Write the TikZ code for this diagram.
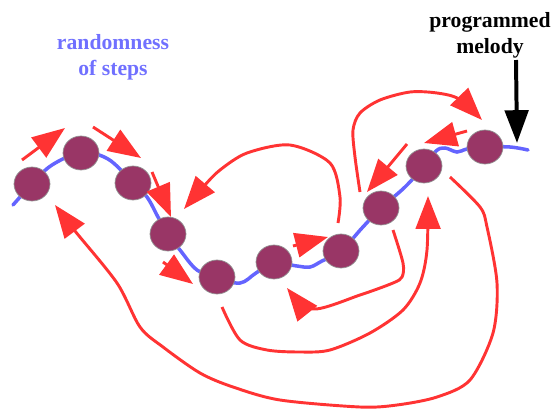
\documentclass[tikz,border=0pt]{standalone}
\usepackage{fontspec}
\setmainfont{Liberation Serif}
\usetikzlibrary{arrows.meta,shapes.geometric}
\definecolor{stepred}{RGB}{255,51,51}
\definecolor{melodyblue}{RGB}{100,100,255}
\definecolor{plum}{RGB}{153,54,102}
\definecolor{textblue}{RGB}{112,112,255}

\begin{document}
\begin{tikzpicture}[x=0.03cm,y=-0.03cm,
  noteball/.style={ellipse,fill=plum,draw=gray!85,line width=0.6pt,minimum width=1.08cm,minimum height=1.02cm,inner sep=0pt},
  melody/.style={melodyblue,line width=3pt,line cap=round},
  jump/.style={stepred,line width=2.5pt,-{Triangle[length=28pt,width=21pt]}},
  tagtext/.style={font=\bfseries\fontsize{18.5}{22}\selectfont,align=center,inner sep=0pt}]
\useasboundingbox (0,0) rectangle (554,408);
% draw melody line
\draw[melody] plot[smooth,tension=0.6] coordinates {(13,205) (32,184) (52,165) (81,153) (108,159) (133,183) (147,197) (158,217) (168,234) (180,250) (197,270) (217,278) (240,283) (256,273) (274,263) (297,266) (310,267) (322,261) (341,251) (362,228) (381,208) (405,187) (424,166) (436,151) (445,148) (457,152) (467,149) (485,147) (510,147) (528,150)};
% draw notes
\foreach \n/\x/\y in {1/32/184, 2/81/153, 3/133/183, 4/168/234, 5/217/277, 6/274/262, 7/341/251, 8/381/208, 9/424/166, 10/485/147}
  \node[noteball] (n\n) at (\x,\y) {};
% draw labels
\node[tagtext,text=textblue] (randomness) at (113,57) {randomness\\of steps};
\node[tagtext] (programmed) at (490,35) {programmed\\melody};
\coordinate (melodytop) at (516,60);
\coordinate (melodytip) at (517,143);
\draw[line width=3.4pt,-{Triangle[length=28pt,width=20pt]}] (melodytop) -- (melodytip);
% draw small steps
\draw[jump] (22,160) -- (65,128);
\draw[jump] (93,127) -- (141,158);
\draw[jump] (152,172) -- (171,217);
\draw[jump] (163,262) -- (193,284);
\draw[jump] (293,246) -- (328,237);
\draw[jump] (407,144) -- (367,192);
\draw[jump] (467,131) -- (424,143);
% draw big jumps
\draw[jump] plot[smooth] coordinates {(338,223) (340,197) (330,163) (290,145) (247,153) (220,170) (204,186) (184,209)};
\draw[jump] plot[smooth] coordinates {(360,192) (355,157) (353,130) (360,113) (380,100) (410,92) (437,93) (459,99) (482,120)};
\draw[jump] plot[smooth] coordinates {(393,230) (403,263) (402,277) (393,283) (360,295) (313,309) (287,288)};
\draw[jump] plot[smooth] coordinates {(222,307) (240,340) (267,350) (300,352) (330,350) (370,333) (403,310) (420,283) (427,250) (428,196)};
\draw[jump] plot[smooth] coordinates {(450,177) (480,207) (487,227) (497,283) (493,333) (470,380) (437,397) (397,405) (360,407) (280,400) (233,387) (200,373) (163,347) (140,327) (117,283) (75,231) (55,205)};
\end{tikzpicture}
\end{document}
